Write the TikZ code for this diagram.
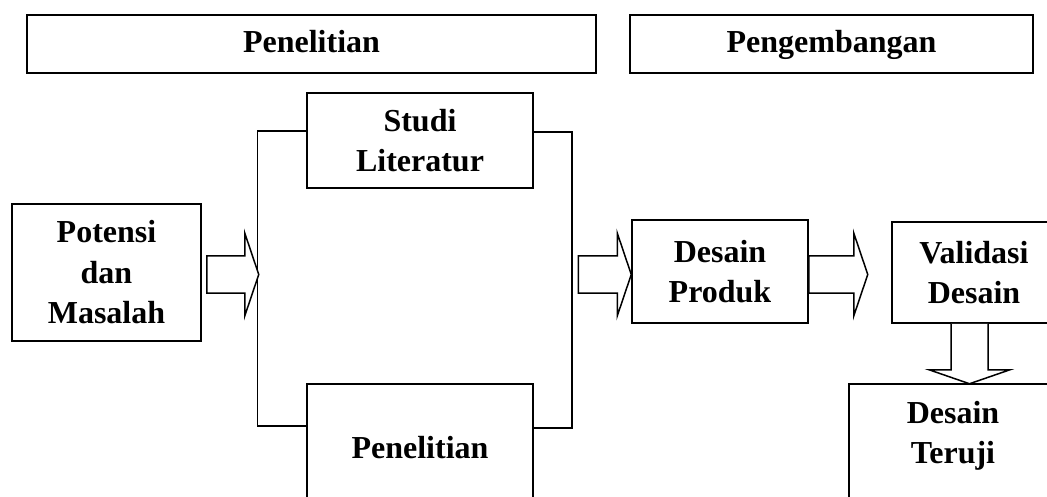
\documentclass[tikz,border=0pt]{standalone}
\usepackage{fontspec}
\setmainfont{Liberation Serif}
\usetikzlibrary{calc}
\tikzset{
  box/.style={draw, line width=1.5pt, rectangle, inner sep=0pt, align=center,
    font=\fontsize{32}{40.5}\selectfont\bfseries},
  lbl/.style={inner sep=0pt, align=center, font=\fontsize{32}{40.5}\selectfont\bfseries},
  oneline/.style={text height=22pt, text depth=4pt},
  conn/.style={draw, line width=1.5pt},
  arrowline/.style={draw, line width=1.5pt, line join=miter, fill=white},
  pics/harr/.style={code={
    \draw[arrowline] (0,-18.5) -- ({#1-14},-18.5) -- ({#1-14},-41.5) -- (#1,0)
      -- ({#1-14},41.5) -- ({#1-14},18.5) -- (0,18.5) -- cycle;}},
  pics/varr/.style={code={
    \draw[arrowline] (-18.5,0) -- (-18.5,{#1-14}) -- (-40.5,{#1-14}) -- (0,#1)
      -- (40.5,{#1-14}) -- (18.5,{#1-14}) -- (18.5,0);}}
}
\begin{document}
\begin{tikzpicture}[x=1pt,y=-1pt]
\useasboundingbox (0,0) rectangle (1047,497);
\clip (0,0) rectangle (1047,497);
% header boxes
\node[box, oneline, minimum width=569pt, minimum height=58pt] (hp) at (311.5,44) {Penelitian};
\node[box, oneline, minimum width=403pt, minimum height=58pt] (hd) at (831.5,44) {Pengembangan};
% main boxes
\node[box, minimum width=189pt, minimum height=137pt] (pm) at (106.5,272.5) {Potensi\\dan\\Masalah};
\node[box, minimum width=226pt, minimum height=95pt] (sl) at (420,140.5) {Studi\\Literatur};
\node[box, minimum width=226pt, minimum height=128pt] (pn) at (420,448) {Penelitian};
\node[box, minimum width=176pt, minimum height=103pt] (dp) at (720,271.5) {Desain\\Produk};
\node[box, minimum width=164pt, minimum height=101pt] (vd) at (974,272.5) {Validasi\\Desain};
\node[box, minimum width=208pt, minimum height=170pt, anchor=north] (dt) at (953,383) {};
\node[lbl] (dtl) at (953,436) {Desain\\Teruji};
% brackets
\draw[conn] ($(sl.west)+(0,-9.5)$) -- ++(-49,0) |- ($(pn.west)+(0,-22)$);
\draw[conn] ($(sl.east)+(0,-8.5)$) -- ++(38,0) |- ($(pn.east)+(0,-20)$);
% block arrows
\pic at ($(pm.east)+(5,2)$) {harr=52};
\pic at ($(dp.west)+(-53,3)$) {harr=53};
\pic at ($(dp.east)+(0,3)$) {harr=59};
\pic at ($(vd.south)+(-4.5,0)$) {varr=60};
\end{tikzpicture}
\end{document}
